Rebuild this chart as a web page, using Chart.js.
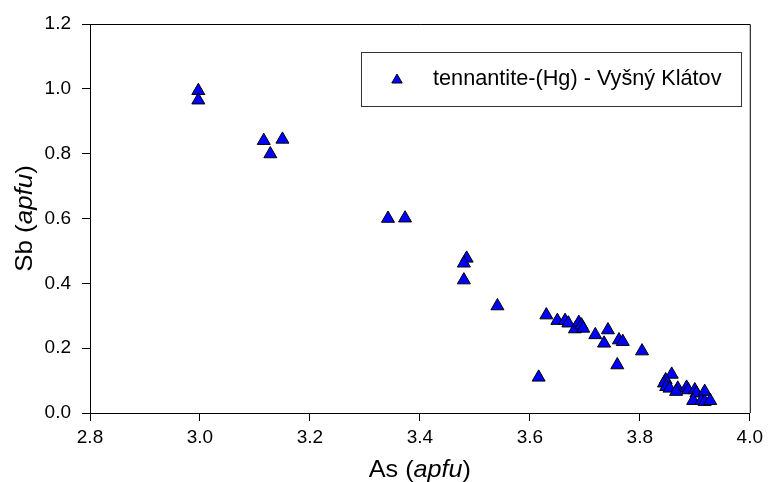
<!DOCTYPE html>
<html>
<head>
<meta charset="utf-8">
<script src="https://cdn.jsdelivr.net/npm/chart.js@4"></script>
<style>
  html, body { margin: 0; padding: 0; background: #fff; }
  #wrap { width: 768px; height: 482px; }
</style>
</head>
<body>
<div id="wrap"><canvas id="scatterChart" width="768" height="482"></canvas></div>
<script>
// As vs Sb (apfu), tennantite-(Hg) from Vyšný Klátov
var seriesLabel = 'tennantite-(Hg) - Vyšný Klátov';
var asValues = [
  2.997, 2.997, 3.116, 3.128, 3.150, 3.342, 3.373, 3.485, 3.480, 3.480,
  3.541, 3.630, 3.650, 3.664, 3.670, 3.682, 3.689, 3.694, 3.697, 3.719,
  3.742, 3.735, 3.762, 3.769, 3.804, 3.759, 3.616, 3.858, 3.847, 3.844,
  3.848, 3.854, 3.869, 3.866, 3.885, 3.888, 3.900, 3.903, 3.918, 3.897,
  3.912, 3.918, 3.928
];
var sbValues = [
  0.994, 0.965, 0.840, 0.799, 0.844, 0.600, 0.601, 0.477, 0.462, 0.410,
  0.330, 0.302, 0.285, 0.285, 0.277, 0.259, 0.279, 0.271, 0.261, 0.241,
  0.256, 0.215, 0.225, 0.220, 0.191, 0.148, 0.110, 0.119, 0.102, 0.092,
  0.081, 0.076, 0.076, 0.066, 0.079, 0.071, 0.071, 0.061, 0.066, 0.038,
  0.038, 0.035, 0.038
];
var xTicks = [2.8, 3.0, 3.2, 3.4, 3.6, 3.8, 4.0];
var yTicks = [0.0, 0.2, 0.4, 0.6, 0.8, 1.0, 1.2];

var points = asValues.map(function(x, i) { return { x: x, y: sbValues[i] }; });

var fontFamily = 'Arial, "Liberation Sans", Helvetica, sans-serif';

// axis titles with italic "apfu", top/right frame and the legend box
var decorPlugin = {
  id: 'decor',
  afterDraw: function(chart) {
    var ctx = chart.ctx;
    var area = chart.chartArea;

    ctx.save();
    ctx.strokeStyle = '#000';
    ctx.lineWidth = 1;
    ctx.beginPath();
    ctx.moveTo(area.left, area.top + 0.5);
    ctx.lineTo(area.right + 0.5, area.top + 0.5);
    ctx.lineTo(area.right + 0.5, area.bottom);
    ctx.stroke();

    function mixedTitle(parts) {
      var total = 0;
      parts.forEach(function(p) { ctx.font = p[1] + ' 24px ' + fontFamily; total += ctx.measureText(p[0]).width; });
      var x = -total / 2;
      parts.forEach(function(p) {
        ctx.font = p[1] + ' 24px ' + fontFamily;
        ctx.fillText(p[0], x, 0);
        x += ctx.measureText(p[0]).width;
      });
    }
    ctx.fillStyle = '#000';
    ctx.textBaseline = 'middle';
    ctx.textAlign = 'left';

    ctx.save();
    ctx.translate((area.left + area.right) / 2, 470);
    ctx.scale(1.05, 1);
    mixedTitle([['As (', 'normal'], ['apfu', 'italic'], [')', 'normal']]);
    ctx.restore();

    ctx.save();
    ctx.translate(25, (area.top + area.bottom) / 2);
    ctx.rotate(-Math.PI / 2);
    ctx.scale(1.08, 1);
    mixedTitle([['Sb (', 'normal'], ['apfu', 'italic'], [')', 'normal']]);
    ctx.restore();

    // legend box
    var lx = 361, ly = 52, lw = 380, lh = 54;
    ctx.fillStyle = '#fff';
    ctx.fillRect(lx, ly, lw, lh);
    ctx.strokeStyle = '#333';
    ctx.strokeRect(lx + 0.5, ly + 0.5, lw, lh);
    ctx.fillStyle = '#0000ff';
    ctx.strokeStyle = '#000';
    var tx = 397, ty = 80, r = 6;
    ctx.beginPath();
    ctx.moveTo(tx, ty - r);
    ctx.lineTo(tx + r * 0.866, ty + r / 2);
    ctx.lineTo(tx - r * 0.866, ty + r / 2);
    ctx.closePath();
    ctx.fill();
    ctx.stroke();
    ctx.fillStyle = '#000';
    ctx.font = '21.7px ' + fontFamily;
    ctx.fillText(chart.data.datasets[0].label, 433, 79);
    ctx.restore();
  }
};

var ctx = document.getElementById('scatterChart').getContext('2d');
var scatterChart = new Chart(ctx, {
  type: 'scatter',
  data: {
    datasets: [{
      label: seriesLabel,
      data: points,
      pointStyle: 'triangle',
      pointRadius: 7.5,
      pointHoverRadius: 7.5,
      backgroundColor: '#0000ff',
      borderColor: '#000',
      borderWidth: 1
    }]
  },
  options: {
    responsive: false,
    animation: false,
    layout: { padding: { top: 24, right: 18, left: 0, bottom: 0 } },
    plugins: {
      legend: { display: false },
      tooltip: { enabled: false }
    },
    scales: {
      x: {
        type: 'linear',
        min: xTicks[0],
        max: xTicks[xTicks.length - 1],
        afterBuildTicks: function(scale) { scale.ticks = xTicks.map(function(v) { return { value: v }; }); },
        afterFit: function(scale) { scale.height = 69; },
        grid: { drawOnChartArea: false, drawTicks: true, tickLength: 8, color: '#000' },
        border: { display: true, color: '#000', width: 1 },
        ticks: {
          padding: 5,
          color: '#000',
          font: { family: fontFamily, size: 19 },
          callback: function(v) { return Number(v).toFixed(1); }
        }
      },
      y: {
        type: 'linear',
        min: yTicks[0],
        max: yTicks[yTicks.length - 1],
        afterBuildTicks: function(scale) { scale.ticks = yTicks.map(function(v) { return { value: v }; }); },
        afterFit: function(scale) { scale.width = 90; },
        grid: { drawOnChartArea: false, drawTicks: true, tickLength: 8, color: '#000' },
        border: { display: true, color: '#000', width: 1 },
        ticks: {
          padding: 11,
          color: '#000',
          font: { family: fontFamily, size: 19 },
          callback: function(v) { return Number(v).toFixed(1); }
        }
      }
    }
  },
  plugins: [decorPlugin]
});
</script>
</body>
</html>
